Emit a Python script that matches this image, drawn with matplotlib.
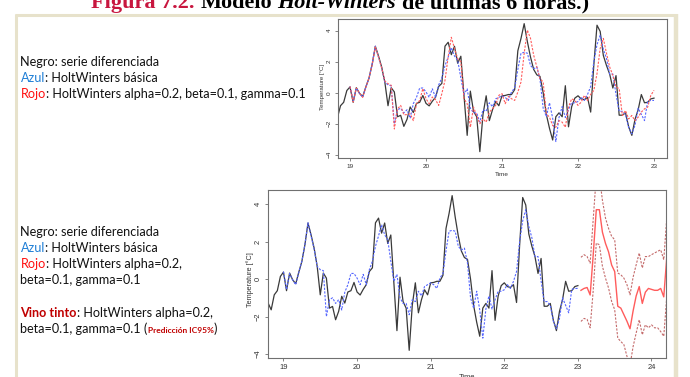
import numpy as np
import matplotlib
matplotlib.use("Agg")
import matplotlib.pyplot as plt

W, H = 690, 377

# serie diferenciada (una observación por hora, frecuencia 24)
t_start = 18 + 19 / 24
freq = 24
serie = [-1.28, -1.64, -0.84, -0.62, 0.14,
         0.37, -0.62, 0.32, -0.04, -0.25, 0.37, 0.94, 1.83, 2.99, 2.36, 1.65, 0.68,
         -0.84, 0.32, 0.05, -1.55, -1.46, -2.17, -1.72, -0.92, -1.28, -0.69, -0.62, -0.18,
         -0.69, -0.85, -0.55, -0.3, 0.4, 0.6, 3.0, 3.25, 2.45, 2.99, 1.9, 2.35,
         -0.2, -2.75, 0.1, -1.2, -1.55, -3.8, -1.4, -0.2, -1.8, -1.1, -0.57, -0.84,
         -0.2, -0.18, -0.12, -0.12, 0.2, 2.7, 3.5, 4.45, 3.3, 2.3, 1.5, 1.15,
         1.05, 0.0, -1.4, -2.3, -3.05, -1.55, -1.3, -1.55, 0.45, -2.2, -0.9, -0.35,
         -0.2, -0.4, -0.45, -0.3, -1.25, 1.8, 4.35, 3.95, 2.4, 1.75, 1.2, 0.3,
         1.1, -1.45, -1.45, -1.3, -2.2, -2.75, -1.72, -1.1, -0.12, -0.65, -0.62, -0.4,
         -0.35]

# valores ajustados desde el día 19
fit_start = 19.0
hw_basica = [0.4, -0.55, 0.3, -0.05, -0.3, 0.35, 0.95, 1.85, 3.0, 2.3, 1.6,
             0.68, 0.5, 0.45, -2.0, -1.1, -1.0, -1.3, -1.1, -1.65, -0.7, -0.3, 0.3,
             0.3, 0.05, -0.3, 0.25, -0.3, 0.5, 0.95, 1.75, 2.3, 2.9, 2.36, 2.1,
             0.95, -0.12, 0.25, -1.0, -1.3, -1.3, -1.9, -1.1, -1.2, -0.65, -0.9, -0.4,
             -0.3, -0.2, -0.3, -0.5, 0.05, 0.3, 1.5, 2.55, 2.6, 2.55, 1.75, 1.55,
             1.65, 0.85, -1.0, -1.55, -0.65, -1.65, -3.15, -1.6, -0.9, -1.6, -1.1, -0.65,
             -0.65, -0.57, -0.3, -0.5, -0.12, 0.4, 2.0, 3.1, 3.7, 2.8, 2.2, 1.2,
             1.2, -0.1, -1.2, -1.2, -1.4, -2.25, -2.65, -2.1, -1.0, -1.4, -1.8, -0.55,
             -0.5, -0.5]
hw_param = [0.4, -0.6, 0.3, -0.05, -0.3, 0.35, 0.95, 1.8, 2.95, 2.3, 1.6, 0.75,
            0.58, 0.48, -2.34, -1.04, -0.82, -1.43, -1.41, -1.36, -1.8, -0.71, -0.5, 0.26,
            -0.39, -0.71, -0.28, -0.45, -0.82, -0.06, 0.8, 2.31, 3.57, 2.85, 2.2, 2.0,
            -0.39, -0.71, -2.23, -0.93, -1.47, -2.0, -1.69, -1.9, -1.25, -1.04, -0.82, -0.17,
            -0.06, -0.71, -0.24, -0.39, -0.5, 0.04, 0.69, 2.53, 4.04, 3.5, 2.42, 1.66,
            0.91, 0.69, -1.36, -1.58, -2.12, -2.23, -1.8, -1.9, -2.23, -0.93, -0.39, -0.5,
            -0.82, -0.61, -0.17, -0.5, -0.11, 0.15, 1.23, 2.85, 3.5, 2.53, 1.66, 1.12,
            0.37, 0.26, -1.47, -1.15, -1.69, -1.47, -1.8, -1.58, -1.25, -1.04, -0.93, -0.17,
            0.15]

# predicción con IC95%
pred_start = 23 + 1 / 24
pred_media = [-0.6, -0.5, -0.45, -0.85, 1.3, 3.7, 3.7, 2.5, 1.9, 1.45, 0.75, 0.4,
              -1.45, -1.55, -1.9, -2.25, -2.65, -1.7, -0.9, -0.4, -1.3, -0.7, -0.5, -0.55,
              -0.6, -0.6, -0.5, -0.95, 1.2]
pred_sup = [1.16, 1.3, 1.2, 0.85, 3.2, 5.5, 5.5, 4.2, 3.25, 2.7, 2.28, 2.1,
            0.32, 0.23, 0.05, -0.3, -0.84, 0.1, 0.76, 1.39, 0.59, 1.2, 1.2, 1.3,
            1.39, 1.48, 1.56, 1.03, 3.3]
pred_inf = [-2.26, -2.1, -2.15, -2.6, -0.6, 1.92, 1.83, 0.68, 0.05, -0.48, -1.19, -1.64,
            -3.15, -3.33, -3.5, -4.12, -4.6, -3.6, -2.88, -2.17, -2.97, -2.44, -2.6, -2.44,
            -2.6, -2.6, -2.8, -3.05, -0.9]

xticks_top = [19, 20, 21, 22, 23]
xticks_bot = [19, 20, 21, 22, 23, 24]
yticks = [-4, -2, 0, 2, 4]

NEGRO = "#3a3a3a"; AZUL = "#5566ff"; ROJO = "#ff5c5c"; VINO = "#c46a6a"
TXT_AZUL = "#1f7fd6"; TXT_ROJO = "#ff1010"; TXT_VINO = "#c00000"; TITULO = "#c8163f"
MARCO = "#e7e2cb"

t_obs = t_start + np.arange(len(serie)) / freq
t_fit = fit_start + np.arange(len(hw_basica)) / freq
t_pred = pred_start + np.arange(len(pred_media)) / freq

fig = plt.figure(figsize=(W / 100, H / 100), dpi=100)
bg = fig.add_axes([0, 0, 1, 1]); bg.set_xlim(0, W); bg.set_ylim(H, 0); bg.axis("off")

def px_axes(l, t, r, b):
    return fig.add_axes([l / W, 1 - b / H, (r - l) / W, (b - t) / H])

# marco beige del documento
bg.plot([16, 16], [14, H + 5], color=MARCO, lw=2.2, solid_capstyle="butt")
bg.plot([675.5, 675.5], [14, H + 5], color=MARCO, lw=3.2, solid_capstyle="butt")
bg.plot([15, 677], [14.5, 14.5], color=MARCO, lw=2.2, solid_capstyle="butt")

R = fig.canvas.get_renderer()

def rich(x, y, parts, fs, family):
    for txt, color, weight, size, style in parts:
        if txt == " ":
            a = bg.text(0, -50, "x x", fontsize=size or fs, fontweight=weight, family=family)
            b = bg.text(0, -50, "xx", fontsize=size or fs, fontweight=weight, family=family)
            x += a.get_window_extent(R).width - b.get_window_extent(R).width
            a.remove(); b.remove()
            continue
        t = bg.text(x, y, txt, color=color, fontsize=size or fs, fontweight=weight,
                    fontstyle=style, family=family, va="baseline", ha="left")
        x += t.get_window_extent(R).width

# título (cortado arriba)
rich(91, 8, [("Figura 7.2.", TITULO, "bold", None, "normal"), (" ", None, "bold", None, "normal"),
             ("Modelo", "black", "bold", None, "normal"), (" ", None, "bold", None, "normal"),
             ("Holt-Winters", "black", "bold", None, "italic"), (" ", None, "bold", None, "normal"),
             ("de últimas 6 horas.)", "black", "bold", None, "normal")], 16, "Liberation Serif")

FS = 9.1; FAM = "Lato"
N = "normal"
def line(y, parts):
    rich(20.5, y, [(p[0], p[1], p[2] if len(p) > 2 else N, p[3] if len(p) > 3 else None, N) for p in parts], FS, FAM)

line(66, [("Negro: serie diferenciada", "#111")])
line(82.3, [("Azul", TXT_AZUL), (": HoltWinters básica", "#111")])
line(98.5, [("Rojo", TXT_ROJO), (": HoltWinters alpha=0.2, beta=0.1, gamma=0.1", "#111")])

line(236, [("Negro: serie diferenciada", "#111")])
line(252, [("Azul", TXT_AZUL), (": HoltWinters básica", "#111")])
line(268, [("Rojo", TXT_ROJO), (": HoltWinters alpha=0.2,", "#111")])
line(284.3, [("beta=0.1, gamma=0.1", "#111")])
line(316.7, [("Vino tinto", TXT_VINO, "bold"), (": HoltWinters alpha=0.2,", "#111")])
line(333.3, [("beta=0.1, gamma=0.1 (", "#111"), ("Predicción IC95%", TXT_VINO, "bold", 6.0), (")", "#111")])

def r_style(ax, xt, fs):
    for s in ax.spines.values():
        s.set_color("#707070"); s.set_linewidth(0.8)
    ax.set_xticks(xt); ax.set_yticks(yticks)
    ax.tick_params(direction="out", length=2.5, width=0.6, color="#707070",
                   labelsize=fs, labelcolor="#333", pad=1.5)
    ax.tick_params(axis="y", labelrotation=90, pad=1.8)
    for lab in ax.get_yticklabels():
        lab.set_verticalalignment("center")
    for lab in ax.get_xticklabels() + ax.get_yticklabels():
        lab.set_family("Liberation Sans")

# gráfico superior
ax1 = px_axes(338, 19, 667, 158)
ax1.plot(t_obs, serie, color=NEGRO, lw=0.9)
ax1.plot(t_fit, hw_basica, color=AZUL, lw=0.8, dashes=(2, 1.3))
ax1.plot(t_fit, hw_param, color=ROJO, lw=0.8, dashes=(2, 1.3))
ax1.set_xlim(18.842, 23.171); ax1.set_ylim(-4.21, 4.75)
r_style(ax1, xticks_top, 4.6)
bg.text(322.5, 87, "Temperature [°C]", rotation=90, ha="center", va="center",
        fontsize=4.4, family="Liberation Sans", color="#333")
bg.text(501.7, 174, "Time", ha="center", va="center", fontsize=4.6,
        family="Liberation Sans", color="#333")

# gráfico inferior
ax2 = px_axes(268, 190, 666, 358)
ax2.plot(t_obs, serie, color=NEGRO, lw=0.9)
ax2.plot(t_fit, hw_basica, color=AZUL, lw=0.8, dashes=(2, 1.3))
ax2.plot(t_pred, pred_media, color=ROJO, lw=1.0)
ax2.plot(t_pred, pred_sup, color=VINO, lw=0.8, dashes=(2, 1.3))
ax2.plot(t_pred, pred_inf, color=VINO, lw=0.8, dashes=(2, 1.3))
ax2.set_xlim(18.79, 24.197); ax2.set_ylim(-4.21, 4.75)
r_style(ax2, xticks_bot, 5.4)
bg.text(250.5, 280, "Temperature [°C]", rotation=90, ha="center", va="center",
        fontsize=5.2, family="Liberation Sans", color="#333")
bg.text(466.7, 377.5, "Time", ha="center", va="center", fontsize=5.4,
        family="Liberation Sans", color="#333")

fig.savefig("out.png", dpi=100)
